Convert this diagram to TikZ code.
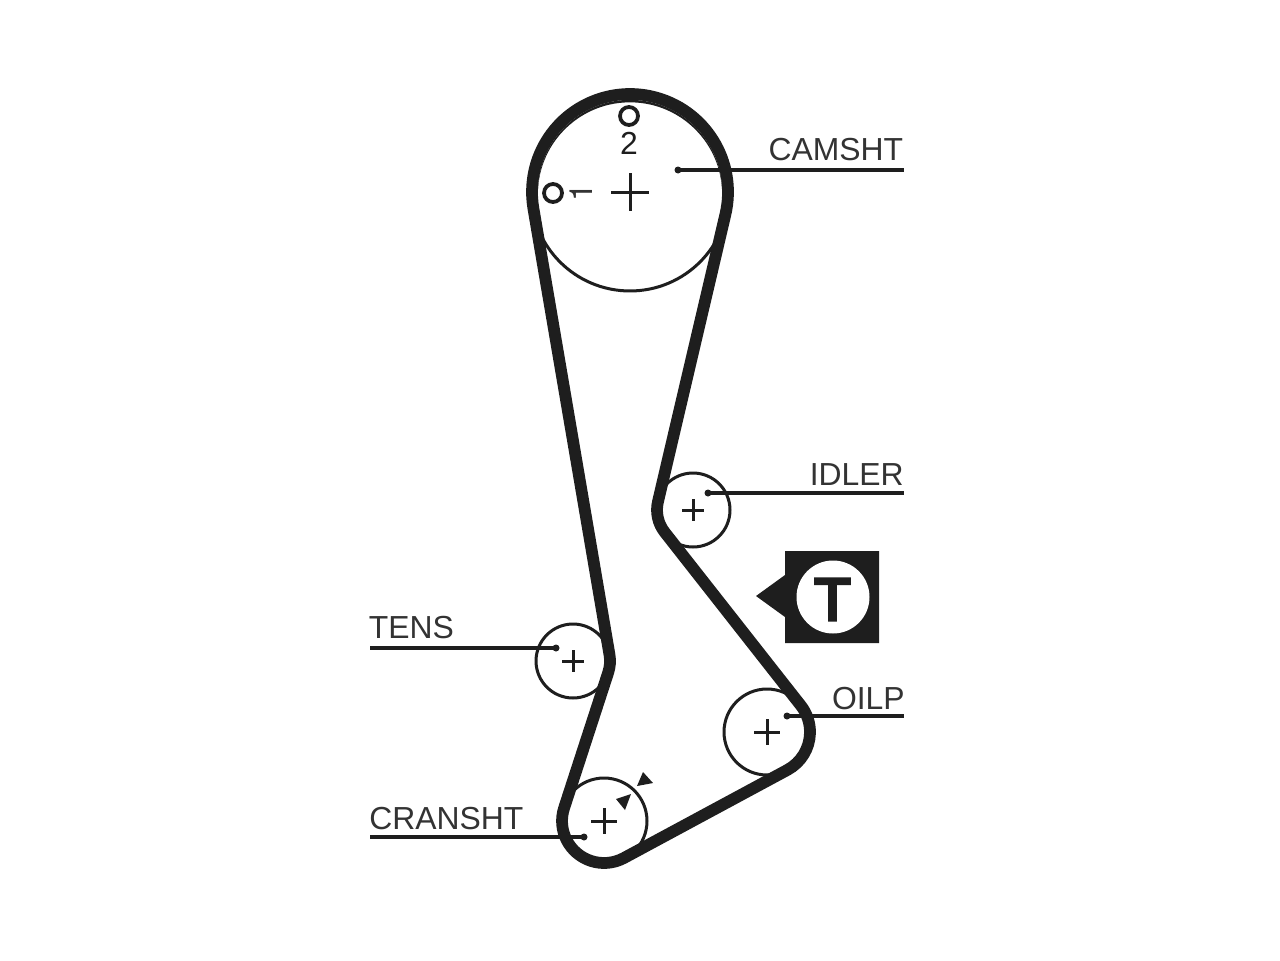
\documentclass[tikz,border=0pt]{standalone}
\usepackage{fontspec}
\setmainfont{Liberation Sans}
\newfontfamily\oneface{TeX Gyre Heros}
\newfontfamily\teeface[FakeBold=5]{Liberation Sans}
\definecolor{ink}{HTML}{1E1E1E}
\definecolor{txt}{HTML}{333333}
\tikzset{
  x=0.02cm,y=0.02cm,
  belt/.style={draw=ink,line width=0.235cm,line join=round},
  pulley/.style={circle,draw=ink,line width=0.06cm,fill=none,inner sep=0pt,outer sep=0pt},
  cross/.style={draw=ink,line width=0.06cm},
  leader/.style={draw=ink,line width=0.065cm},
  dotend/.style={fill=ink,draw=none},
  lab/.style={text=txt,inner sep=0pt,font=\fontsize{18.14pt}{20pt}\selectfont},
  ring/.style={circle,draw=ink,line width=0.075cm,inner sep=0pt,minimum size=0.36cm},
}
\begin{document}
\begin{tikzpicture}
\useasboundingbox[fill=white] (0,0) rectangle (1280,-960);
% pulleys
\node[pulley,minimum size=3.96cm] (cam) at (630,-192) {};
\node[pulley,minimum size=1.48cm] (idler) at (693,-510) {};
\node[pulley,minimum size=1.48cm] (tens) at (573,-661) {};
\node[pulley,minimum size=1.72cm] (oil) at (767,-732) {};
\node[pulley,minimum size=1.72cm] (crank) at (604,-821) {};
% belt
\draw[belt] (725.4,-214.4) arc[start angle=-13.21,end angle=189.67,radius=98]
  -- (609.5,-654.8) arc[start angle=9.67,end angle=-18.03,radius=37]
  -- (564.1,-808) arc[start angle=161.97,end angle=298.33,radius=42]
  -- (787.4,-769.9) arc[start angle=-61.67,end angle=38.16,radius=43]
  -- (664.7,-532.2) arc[start angle=218.16,end angle=166.79,radius=36]
  -- cycle;
% belt is heavier over the top of the cam pulley
\fill[ink] (722.15,-192) arc[start angle=0,end angle=180,radius=92.15]
  arc[start angle=178.45,end angle=1.55,radius=92.18] -- cycle;
% centre crosses
\draw[cross] (611,-192) -- (649,-192) (630,-173) -- (630,-211);
\draw[cross] (682,-510) -- (704,-510) (693,-499) -- (693,-521);
\draw[cross] (562,-661) -- (584,-661) (573,-650) -- (573,-672);
\draw[cross] (754,-732) -- (780,-732) (767,-719) -- (767,-745);
\draw[cross] (591,-821) -- (617,-821) (604,-808) -- (604,-834);
% timing marks
\node[ring] (m2) at (629,-116) {};
\node[ring] (m1) at (553,-193) {};
\node[lab,text=ink] (n2) at (629,-143.5) {2};
\node[lab,text=txt,rotate=90,font=\oneface\fontsize{18.14pt}{20pt}\selectfont] (n1) at (581,-193) {1};
% leaders
\coordinate (dcam) at (678,-170); \coordinate (ecam) at (904,-170);
\coordinate (didl) at (708,-493); \coordinate (eidl) at (904,-493);
\coordinate (dten) at (556,-648); \coordinate (eten) at (370,-648);
\coordinate (doil) at (787,-716); \coordinate (eoil) at (904,-716);
\coordinate (dcra) at (584,-837); \coordinate (ecra) at (370,-837);
\draw[leader] (dcam) -- (ecam);
\draw[leader] (didl) -- (eidl);
\draw[leader] (dten) -- (eten);
\draw[leader] (doil) -- (eoil);
\draw[leader] (dcra) -- (ecra);
\foreach \d in {dcam,didl,dten,doil,dcra} \fill[dotend] (\d) circle[radius=3.5];
% labels
\node[lab,anchor=base east] (lcam) at (903.5,-160) {CAMSHT};
\node[lab,anchor=base east] (lidl) at (904,-485) {IDLER};
\node[lab,anchor=base west] (lten) at (368.5,-638.5) {TENS};
\node[lab,anchor=base east] (loil) at (905,-709) {OILP};
\node[lab,anchor=base west] (lcra) at (369,-829) {CRANSHT};
% crank marks
\fill[ink] (643,-772) -- (653,-783) -- (637,-786) -- cycle;
\fill[ink] (616,-799) -- (631,-794) -- (625,-810) -- cycle;
% T badge
\fill[ink] (785,-551) -- (879,-551) -- (879,-643) -- (785,-643) -- (785,-617) -- (756,-596) -- (785,-575) -- cycle;
\node[circle,fill=white,inner sep=0pt,minimum size=1.46cm] (tc) at (833,-597) {};
\node[inner sep=0pt,text=ink,font=\teeface\fontsize{34pt}{36pt}\selectfont] (tt) at (832.5,-599.5) {T};
\end{tikzpicture}
\end{document}
